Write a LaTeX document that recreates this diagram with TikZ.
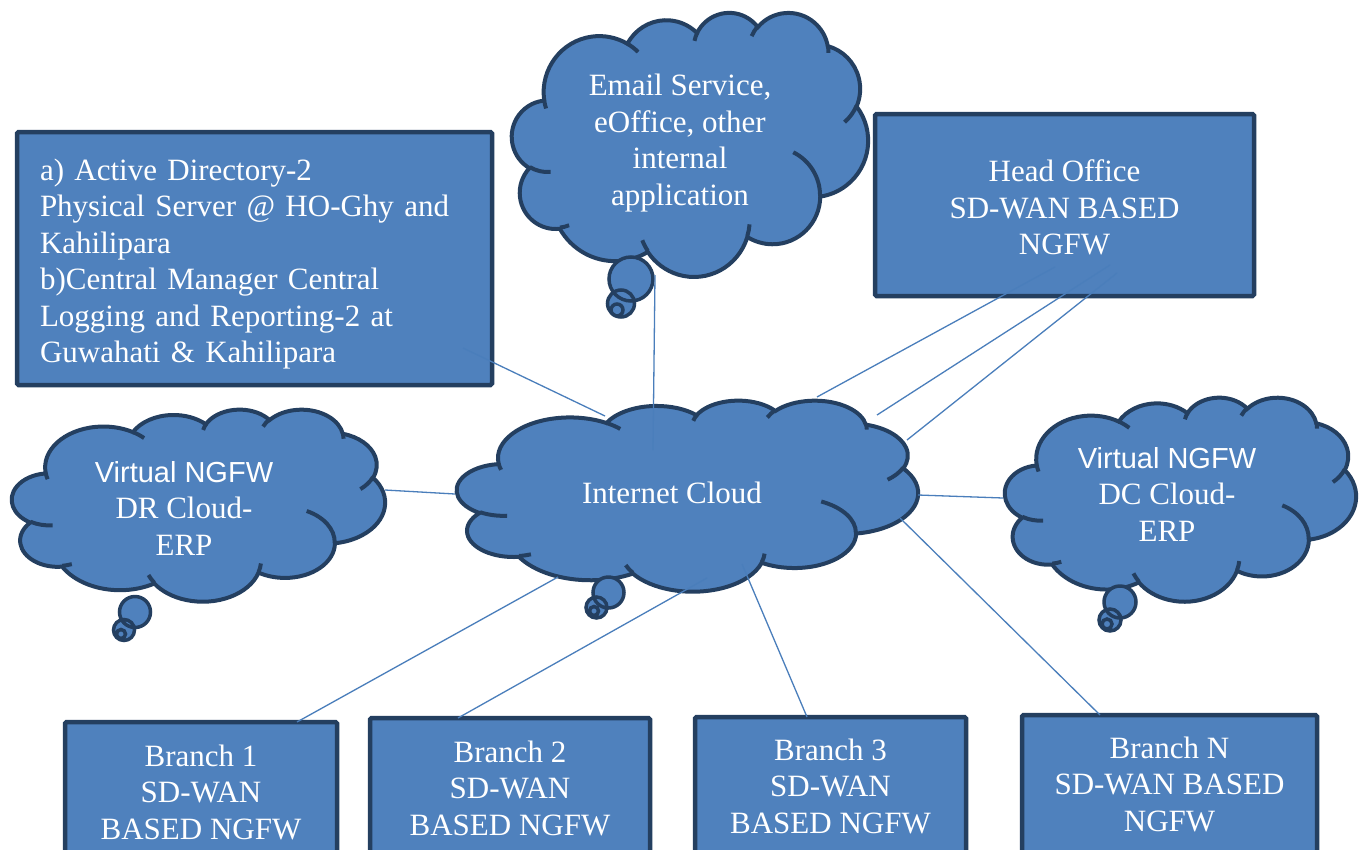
\documentclass[tikz,border=0pt]{standalone}
\usepackage{fontspec}
\setmainfont{Liberation Serif}
\newfontfamily\arialfont{Liberation Sans}
\usetikzlibrary{calc,positioning}

\definecolor{boxfill}{HTML}{4F81BD}
\definecolor{boxedge}{HTML}{243F60}
\definecolor{linkblue}{HTML}{4A7EBB}

\newcommand\serifbig{\fontsize{31}{36.5}\selectfont}
\newcommand\sansbig{\arialfont\fontsize{29}{36.5}\selectfont}

% one puff of the cloud outline (radii, start and sweep angle)
\newcommand\cloudpuff[4]{%
  \pgfextra{%
    \pgfmathsetmacro\cloudta{atan2(#1*sin(#3),#2*cos(#3))}%
    \pgfmathsetmacro\cloudtb{atan2(#1*sin(#3+#4),#2*cos(#3+#4))}%
    \pgfmathsetmacro\cloudtd{mod(\cloudtb-\cloudta+720,360)}}
  arc[start angle=\cloudta, delta angle=\cloudtd, x radius=#1, y radius=#2]}

% cloud in the box left, top, width, height
\newcommand\officecloud[4]{%
  \pgfmathsetlengthmacro\cloudux{#3/43.2}%
  \pgfmathsetlengthmacro\clouduy{#4/43.2}%
  \begin{scope}[shift={(#1,#2)}, x=\cloudux, y=-\clouduy]
    \path[cloudedge] (3.9,14.37)
      \cloudpuff{6.753}{9.190}{-190.487}{123.781}
      \cloudpuff{5.333}{7.267}{-144.102}{89.945}
      \cloudpuff{4.365}{5.945}{-145.808}{99.723}
      \cloudpuff{4.857}{6.595}{-130.986}{117.242}
      \cloudpuff{5.333}{7.273}{-78.709}{109.027}
      \cloudpuff{6.775}{9.220}{-46.267}{130.269}
      \cloudpuff{5.785}{7.867}{0.625}{114.033}
      \cloudpuff{6.752}{9.215}{22.452}{115.173}
      \cloudpuff{7.720}{10.543}{66.243}{75.711}
      \cloudpuff{4.360}{5.918}{-274.942}{146.736}
      \cloudpuff{4.345}{5.945}{-246.829}{152.519} -- cycle;
    \draw[cloudedge, fill=none]
      (4.693,26.177) \cloudpuff{4.345}{5.945}{86.742}{26.430}
      (6.928,34.899) \cloudpuff{4.360}{5.918}{73.611}{11.447}
      (16.478,39.090) \cloudpuff{6.752}{9.215}{137.624}{14.081}
      (28.827,34.751) \cloudpuff{6.752}{9.215}{6.453}{15.998}
      (34.129,22.954) \cloudpuff{5.785}{7.867}{-70.292}{70.917}
      (41.798,15.354) \cloudpuff{5.333}{7.273}{30.318}{27.752}
      (38.324,5.426) \cloudpuff{4.857}{6.595}{-13.744}{14.864}
      (29.078,3.952) \cloudpuff{4.857}{6.595}{-149.181}{18.196}
      (22.141,4.720) \cloudpuff{4.365}{5.945}{-163.494}{17.692}
      (14.000,5.192) \cloudpuff{6.753}{9.190}{-66.707}{12.319}
      (4.127,15.789) \cloudpuff{6.753}{9.190}{157.654}{11.858};
  \end{scope}}

\begin{document}
\begin{tikzpicture}[x=1pt, y=-1pt,
  box/.style={draw=boxedge, line width=4.5pt, fill=boxfill, text=white,
    rounded corners=1.5pt, font=\serifbig, align=center, inner sep=0pt},
  cloudtext/.style={text=white, font=\serifbig, align=center, inner sep=0pt},
  cloudedge/.style={draw=boxedge, line width=4pt, fill=boxfill},
  bubble/.style={cloudedge, line width=3.5pt},
  link/.style={draw=linkblue, line width=1.3pt}]
  \path[use as bounding box, fill=white] (0,0) rectangle (1365,849);

  % clouds
  \officecloud{512}{12}{356}{264}
  \path[bubble] (631,279) circle[radius=22] (621,303.5) circle[radius=13.5] (617,310) circle[radius=6];
  \officecloud{457}{400}{461}{191}
  \path[bubble] (608.5,592.5) circle[radius=15.5] (596.5,607.5) circle[radius=10.5] (594,611) circle[radius=4.5];
  \officecloud{12}{409}{373}{192}
  \path[bubble] (135,612) circle[radius=15.5] (124,630) circle[radius=10.5] (121,634) circle[radius=4.5];
  \officecloud{1005}{397}{351}{204}
  \path[bubble] (1120,602) circle[radius=16] (1110,620) circle[radius=11] (1107,624) circle[radius=5];

  \node[cloudtext] (mail) at (680,143) {Email Service,\\eOffice, other\\internal\\application};
  \node[cloudtext] (inet) at (672,493) {Internet Cloud};
  \node[cloudtext] (dr) at (184,508) {{\sansbig Virtual NGFW}\\DR Cloud-\\ERP};
  \node[cloudtext] (dc) at (1167,494) {{\sansbig Virtual NGFW}\\DC Cloud-\\ERP};

  % boxes
  \node[box, minimum width=475pt, minimum height=253pt, text width=429pt, align=left] (ad) at (254.5,258.5)
    {\rule{0pt}{33pt}a) Active Directory-2\\Physical Server @ HO-Ghy and\\Kahilipara\\b)Central Manager Central\\Logging and Reporting-2 at\\Guwahati \& Kahilipara};
  \node[box, minimum width=379pt, minimum height=182pt] (ho) at (1064.5,205) {\rule{0pt}{27pt}Head Office\\SD-WAN BASED\\NGFW};
  \node[box, minimum width=272pt, minimum height=140pt] (br1) at (201,792) {Branch 1\\SD-WAN\\BASED NGFW};
  \node[box, minimum width=280pt, minimum height=140pt] (br2) at (510,788) {Branch 2\\SD-WAN\\BASED NGFW};
  \node[box, minimum width=271pt, minimum height=138pt] (br3) at (830.5,786) {Branch 3\\SD-WAN\\BASED NGFW};
  \node[box, minimum width=295pt, minimum height=138pt] (brn) at (1169.5,784) {Branch N\\SD-WAN BASED\\NGFW};

  % link ends
  \coordinate (ad-e) at (463,348);
  \coordinate (mail-s) at (655,275);
  \coordinate (ho-a) at (1055,267);
  \coordinate (ho-b) at (1110,265);
  \coordinate (ho-c) at (1117,273);
  \coordinate (dr-e) at (385,490);
  \coordinate (dc-w) at (1003,498);
  \coordinate (br1-n) at (297,722);
  \coordinate (br2-n) at (458,718);
  \coordinate (br3-n) at (807,717);
  \coordinate (brn-n) at (1100,715);
  \coordinate (inet-nw) at (605,416);
  \coordinate (inet-c) at (653,450);
  \coordinate (inet-ne1) at (817,397);
  \coordinate (inet-ne2) at (877,415);
  \coordinate (inet-ne3) at (907,440);
  \coordinate (inet-w) at (455,494);
  \coordinate (inet-e) at (918,495);
  \coordinate (inet-s1) at (558,577);
  \coordinate (inet-s2) at (707,578);
  \coordinate (inet-s3) at (742,564);
  \coordinate (inet-s4) at (900,518);

  \draw[link] (ad-e) -- (inet-nw);
  \draw[link] (mail-s) -- (inet-c);
  \draw[link] (ho-a) -- (inet-ne1) (ho-b) -- (inet-ne2) (ho-c) -- (inet-ne3);
  \draw[link] (dr-e) -- (inet-w) (inet-e) -- (dc-w);
  \draw[link] (inet-s1) -- (br1-n) (inet-s2) -- (br2-n) (inet-s3) -- (br3-n) (inet-s4) -- (brn-n);
\end{tikzpicture}
\end{document}
